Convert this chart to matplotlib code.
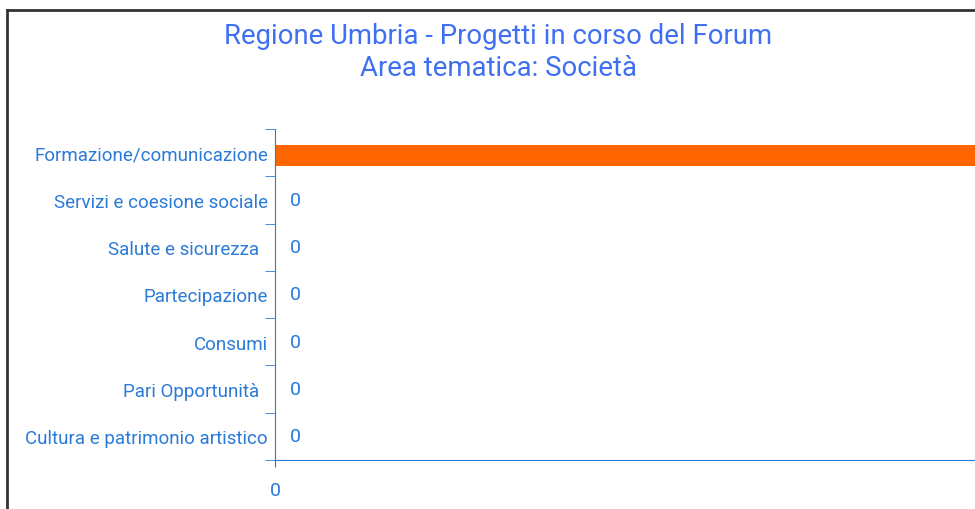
import numpy as np
import matplotlib.pyplot as plt
from matplotlib.lines import Line2D

# -------------------------------------------------------
# Data (top to bottom as in the chart)
categories = ['Formazione/comunicazione', 'Servizi e coesione sociale',
              'Salute e sicurezza  ', 'Partecipazione', 'Consumi',
              'Pari Opportunità  ', 'Cultura e patrimonio artistico']
values     = [1, 0, 0, 0, 0, 0, 0]
xticks     = [0]

titleColor = '#3f6ff2'
textColor  = '#2a7ad8'
barColor   = '#ff6600'

plt.rcParams['font.family'] = ['Roboto', 'DejaVu Sans']

fig = plt.figure(figsize=(9.75, 5.1), dpi=100)
ax  = fig.add_axes([275/975, 1-461/510, 1.2, (461-130)/510])

# barh draws bottom-up, so reverse the lists
ypos = np.arange(len(categories))
ax.barh(ypos - 0.06, values[::-1], height=0.45, color=barColor)
ax.set_ylim(-0.5, len(categories)-0.5)
ax.set_xlim(0, 0.6)

ax.set_yticks(ypos)
ax.set_yticklabels(categories[::-1], color=textColor, fontsize=13.5)
ax.set_yticks(np.arange(len(categories)+1)-0.5, minor=True)
ax.tick_params(axis='y', which='major', length=0, pad=5)
ax.tick_params(axis='y', which='minor', length=7, color=textColor)
ax.set_xticks(xticks)
ax.set_xticklabels([str(t) for t in xticks], color=textColor, fontsize=14)
ax.tick_params(axis='x', length=5, color=textColor, pad=10)

for s in ['top', 'right']:
    ax.spines[s].set_visible(False)
for s in ['left', 'bottom']:
    ax.spines[s].set_color(textColor)

# value labels
for y, v in zip(ypos, values[::-1]):
    if v == 0:
        ax.annotate(str(v), (v, y), xytext=(15, 0), textcoords='offset points',
                    va='center', ha='center', color=textColor, fontsize=14)

fig.text(498/975, 1-36/510, 'Regione Umbria - Progetti in corso del Forum',
         ha='center', va='center', color=titleColor, fontsize=19.8)
fig.text(498/975, 1-68/510, 'Area tematica: Società',
         ha='center', va='center', color=titleColor, fontsize=19.8)

# frame (left and top edges visible)
fig.add_artist(Line2D([7/975, 7/975], [0, 1-11/510], color='#333333', lw=2))
fig.add_artist(Line2D([7/975, 1], [1-11/510, 1-11/510], color='#333333', lw=2))

fig.savefig('out.png', dpi=100)
